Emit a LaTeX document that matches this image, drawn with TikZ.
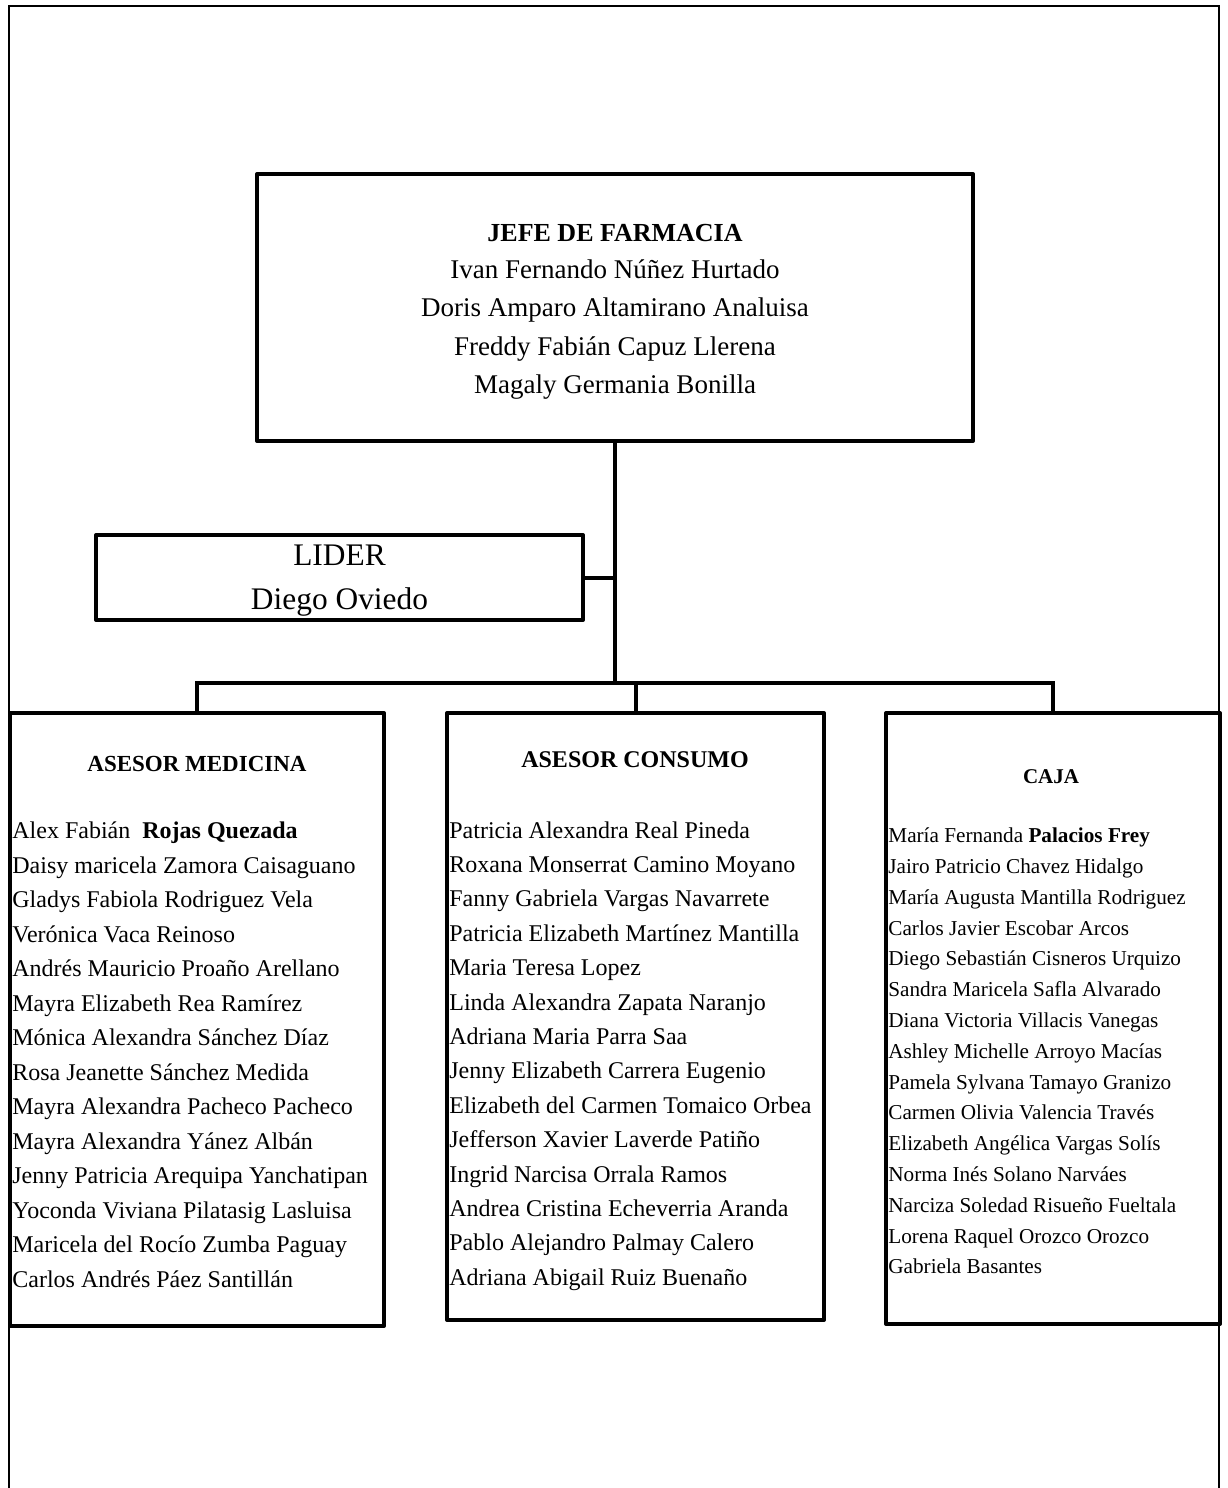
\documentclass[tikz,border=0pt]{standalone}
\usepackage{fontspec}
\setmainfont{Liberation Serif}
\usetikzlibrary{fit}
\begin{document}
\begin{tikzpicture}[x=0.5pt,y=-0.5pt,
  box/.style={draw,line width=2pt,line join=round,inner sep=0pt},
  conn/.style={line width=2pt},
  frame/.style={line width=1pt},
  txt/.style={inner sep=0pt,anchor=mid west},
  ctxt/.style={inner sep=0pt,anchor=mid}]
\useasboundingbox (0,0) rectangle (1227,1488);
\fill[white] (0,0) rectangle (1227,1488);

% page frame, open at the bottom
\draw[frame] (9,1488) -- (9,6) -- (1219,6) -- (1219,1488);

% boxes
\node[box,fit={(257,174) (973,441)}] (jefe) {};
\node[box,fit={(96,535) (583,620)}] (lider) {};
\node[box,fit={(10,713) (384,1326)}] (med) {};
\node[box,fit={(447,713) (824,1320)}] (cons) {};
\node[box,fit={(886,713) (1220,1324)}] (caja) {};

% connectors
\coordinate (busy) at (0,683);
\draw[conn] (jefe.south) -- (jefe.south |- busy);
\draw[conn] (lider.east) -- (lider.east -| jefe.south);
\draw[conn] (med.north) -- (med.north |- busy) -- (caja.north |- busy) -- (caja.north);
\draw[conn] (cons.north) -- (cons.north |- busy);

% head of pharmacy
\node[ctxt,font=\fontsize{13}{15}\selectfont\bfseries] (jefeH) at (615,237) {JEFE DE FARMACIA};
\foreach \t [count=\i] in {Ivan Fernando Núñez Hurtado,
  Doris Amparo Altamirano Analuisa,
  Freddy Fabián Capuz Llerena,
  Magaly Germania Bonilla}
  \node[ctxt,font=\fontsize{13.5}{16}\selectfont] (jefe\i) at (615,{274+38.3*(\i-1)}) {\t};

% leader
\node[ctxt,font=\fontsize{15.7}{18}\selectfont] (liderH) at (339.5,561) {LIDER};
\node[ctxt,font=\fontsize{15.7}{18}\selectfont] (liderN) at (339.5,605) {Diego Oviedo};

% medicine advisors
\node[ctxt,font=\fontsize{11.5}{13}\selectfont\bfseries] (medH) at (197,767) {ASESOR MEDICINA};
\foreach \t [count=\i] in {Alex Fabián\ \ \textbf{Rojas Quezada},
  Daisy maricela Zamora Caisaguano,
  Gladys Fabiola Rodriguez Vela,
  Verónica Vaca Reinoso,
  Andrés Mauricio Proaño Arellano,
  Mayra Elizabeth Rea Ramírez,
  Mónica Alexandra Sánchez Díaz,
  Rosa Jeanette Sánchez Medida,
  Mayra Alexandra Pacheco Pacheco,
  Mayra Alexandra Yánez Albán,
  Jenny Patricia Arequipa Yanchatipan,
  Yoconda Viviana Pilatasig Lasluisa,
  Maricela del Rocío Zumba Paguay,
  Carlos Andrés Páez Santillán}
  \node[txt,font=\fontsize{12}{14}\selectfont] (med\i) at (12,{834+34.5*(\i-1)}) {\t};

% consumer advisors
\node[ctxt,font=\fontsize{12}{14}\selectfont\bfseries] (consH) at (635,763) {ASESOR CONSUMO};
\foreach \t [count=\i] in {Patricia Alexandra Real Pineda,
  Roxana Monserrat Camino Moyano,
  Fanny Gabriela Vargas Navarrete,
  Patricia Elizabeth Martínez Mantilla,
  Maria Teresa Lopez,
  Linda Alexandra Zapata Naranjo,
  Adriana Maria Parra Saa,
  Jenny Elizabeth Carrera Eugenio,
  Elizabeth del Carmen Tomaico Orbea,
  Jefferson Xavier Laverde Patiño,
  Ingrid Narcisa Orrala Ramos,
  Andrea Cristina Echeverria Aranda,
  Pablo Alejandro Palmay Calero,
  Adriana Abigail Ruiz Buenaño}
  \node[txt,font=\fontsize{12}{14}\selectfont] (cons\i) at (449,{833.5+34.4*(\i-1)}) {\t};

% cashiers
\node[ctxt,font=\fontsize{10.5}{12}\selectfont\bfseries] (cajaH) at (1051,779) {CAJA};
\foreach \t [count=\i] in {María Fernanda \textbf{Palacios Frey},
  Jairo Patricio Chavez Hidalgo,
  María Augusta Mantilla Rodriguez,
  Carlos Javier Escobar Arcos,
  Diego Sebastián Cisneros Urquizo,
  Sandra Maricela Safla Alvarado,
  Diana Victoria Villacis Vanegas,
  Ashley Michelle Arroyo Macías,
  Pamela Sylvana Tamayo Granizo,
  Carmen Olivia Valencia Través,
  Elizabeth Angélica Vargas Solís,
  Norma Inés Solano Narváes,
  Narciza Soledad Risueño Fueltala,
  Lorena Raquel Orozco Orozco,
  Gabriela Basantes}
  \node[txt,font=\fontsize{10.6}{12}\selectfont] (caja\i) at (888,{838+30.8*(\i-1)}) {\t};
\end{tikzpicture}
\end{document}
